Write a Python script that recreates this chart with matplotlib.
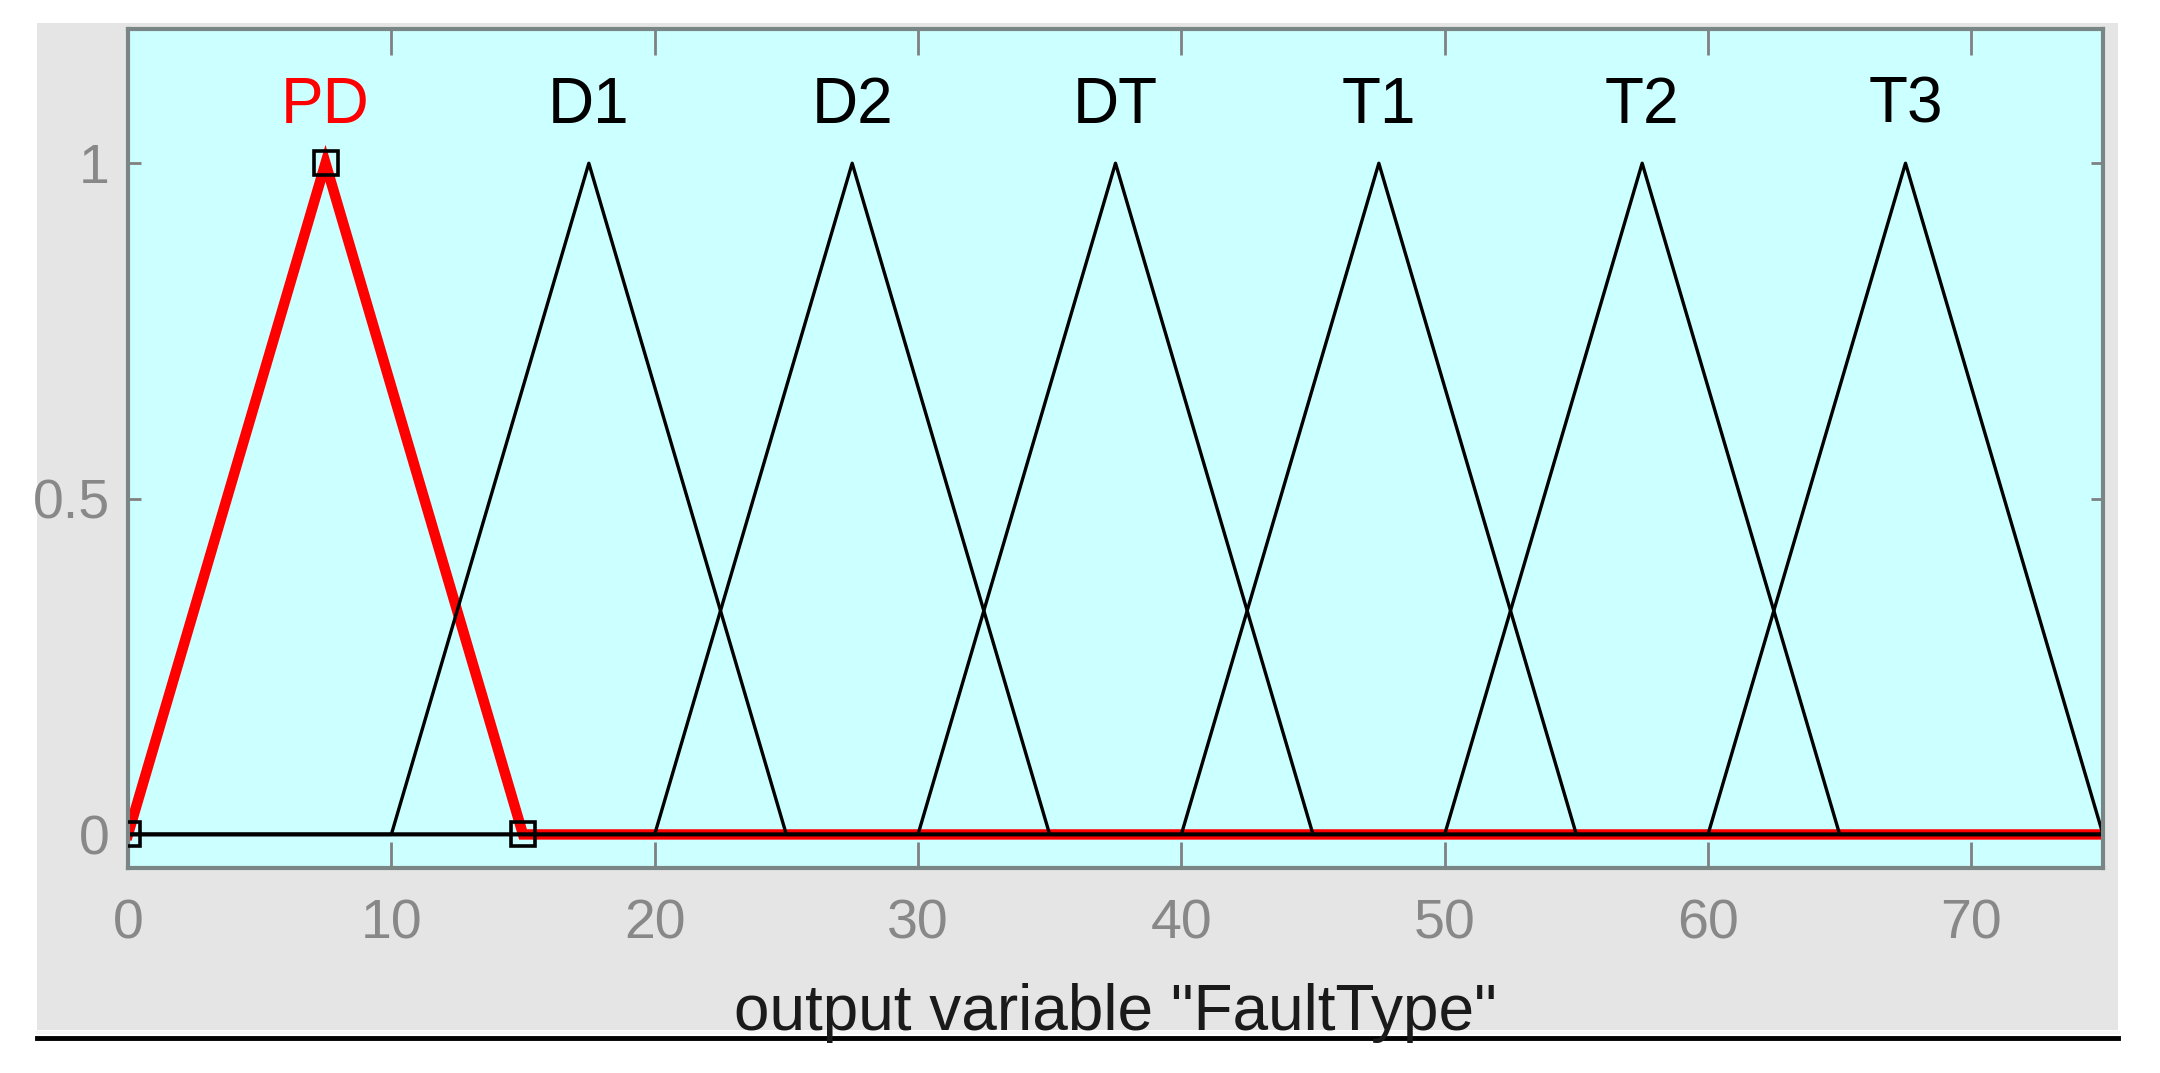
import matplotlib.pyplot as plt
from matplotlib.patches import Rectangle
from matplotlib.lines import Line2D

plt.rcParams['font.family'] = ['Liberation Sans', 'DejaVu Sans']

# membership functions of output "FaultType" (trimf a, b, c)
mf_names = ['PD', 'D1', 'D2', 'DT', 'T1', 'T2', 'T3']
mf_a = [0, 10, 20, 30, 40, 50, 60]
mf_b = [7.5, 17.5, 27.5, 37.5, 47.5, 57.5, 67.5]
mf_c = [15, 25, 35, 45, 55, 65, 75]
selected = 'PD'
x_range = [0, 75]
x_ticks = [0, 10, 20, 30, 40, 50, 60, 70]
y_ticks = [0, 0.5, 1]
y_tick_labels = ['0', '0.5', '1']

W, H = 2160, 1073
fig = plt.figure(figsize=(W / 100, H / 100), dpi=100)
fig.patch.set_facecolor('white')

# gray panel behind the axes
fig.patches.append(Rectangle((37 / W, 1 - 1030 / H), (2118 - 37) / W, (1030 - 23) / H,
                             transform=fig.transFigure, facecolor='#e5e5e5',
                             edgecolor='none', zorder=-10))
fig.lines.append(Line2D([37 / W, 2118 / W], [1 - 1032 / H, 1 - 1032 / H],
                        transform=fig.transFigure, color='#f6f6f6', lw=2.5, zorder=-5))
fig.lines.append(Line2D([37 / W, 2118 / W], [1 - 1038 / H, 1 - 1038 / H],
                        transform=fig.transFigure, color='black', lw=3.5, zorder=-5))

ax = fig.add_axes([128 / W, 1 - 868 / H, (2103 - 128) / W, (868 - 29) / H])
ax.set_facecolor('#ccffff')

for name, a, b, c in zip(mf_names, mf_a, mf_b, mf_c):
    xs = [x_range[0], a, b, c, x_range[1]]
    ys = [0, 0, 1, 0, 0]
    if name == selected:
        ax.plot(xs, ys, color='red', lw=7.5, solid_joinstyle='miter')
        ax.plot([a, b, c], [0, 1, 0], linestyle='none', marker='s', ms=17,
                mfc='none', mec='black', mew=2.6, zorder=5)
        col = 'red'
    else:
        ax.plot(xs, ys, color='black', lw=2.4)
        col = 'black'
    ax.text(b, 1.06, name, color=col, fontsize=46, ha='center', va='baseline')

ax.set_xlim(x_range)
ax.set_ylim(-0.05, 1.2)
ax.set_xticks(x_ticks)
ax.set_yticks(y_ticks)
ax.set_yticklabels(y_tick_labels)

for s in ax.spines.values():
    s.set_color('#7a8585')
    s.set_linewidth(3)

ax.tick_params(axis='both', direction='in', top=True, right=True, colors='#808080',
               labelcolor='#888888', labelsize=40, width=2)
ax.tick_params(axis='x', length=19, pad=22)
ax.tick_params(axis='y', length=9, pad=13)

ax.set_xlabel('output variable "FaultType"', fontsize=46, color='#1a1a1a')
ax.xaxis.label.set_va('baseline')
ax.xaxis.set_label_coords(0.5, (868 - 1030) / (868 - 29))

fig.savefig('out.png', dpi=100)
